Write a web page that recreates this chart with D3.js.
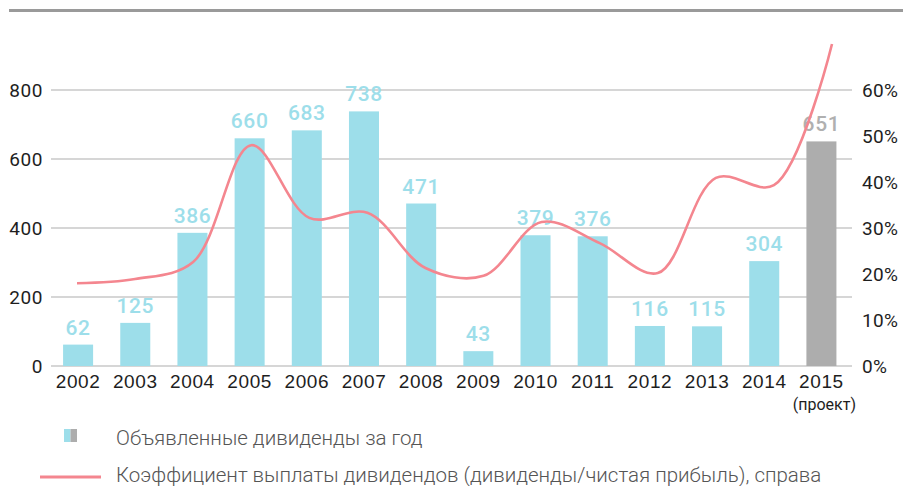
<!DOCTYPE html>
<html><head><meta charset="utf-8">
<script src="https://cdn.jsdelivr.net/npm/d3@7"></script>
<style>
body{margin:0;background:#fff;}
svg{display:block;font-family:Roboto, "Noto Sans", sans-serif;}
</style></head>
<body><svg id="c" width="903" height="486"></svg>
<script>
const years = ["2002","2003","2004","2005","2006","2007","2008","2009","2010","2011","2012","2013","2014","2015"];
const dividends = [62,125,386,660,683,738,471,43,379,376,116,115,304,651];
const payoutRatio = [18.0,18.9,22.6,48.0,32.2,33.3,21.3,19.6,31.3,26.7,20.2,40.9,39.3,70.0];
const leftTicks = [0,200,400,600,800];
const rightTicks = [0,10,20,30,40,50,60];
const projectedYear = "2015";
const projectNote = "(проект)";
const legendBars = "Объявленные дивиденды за год";
const legendLine = "Коэффициент выплаты дивидендов (дивиденды/чистая прибыль), справа";

const svg = d3.select("#c");
const x = d3.scaleBand().domain(years).range([49.5, 850]).paddingInner(0.475).paddingOuter(0.2375);
const y = d3.scaleLinear().domain([0, 800]).range([366, 90]);
const y2 = d3.scaleLinear().domain([0, 60]).range([366, 90]);
const xl = d3.scalePoint().domain(years).range([77, 832]);

// top rule
svg.append("line").attr("x1",9).attr("x2",903).attr("y1",10.5).attr("y2",10.5)
  .attr("stroke","#9a9a9a").attr("stroke-width",3);

// grid
svg.append("g").selectAll("line").data(leftTicks).join("line")
  .attr("x1",51).attr("x2",852).attr("y1",d=>y(d)).attr("y2",d=>y(d))
  .attr("stroke","#c9c9c9").attr("stroke-width",1.5);

// left axis
const gl = svg.append("g").attr("transform","translate(43,0)")
  .call(d3.axisLeft(y).tickValues(leftTicks).tickSize(0).tickPadding(0));
gl.select(".domain").remove();
gl.selectAll("text").attr("font-size",19).attr("fill","#1e1e1e").attr("font-family","Roboto").attr("letter-spacing",0.6);

// right axis
const gr = svg.append("g").attr("transform","translate(862,0)")
  .call(d3.axisRight(y2).tickValues(rightTicks).tickFormat(d=>d+"%").tickSize(0).tickPadding(0));
gr.select(".domain").remove();
gr.selectAll("text").attr("font-size",19).attr("fill","#1e1e1e").attr("font-family","Roboto").attr("letter-spacing",0.3);

// x axis
const gx = svg.append("g").attr("transform","translate(0,374)")
  .call(d3.axisBottom(x).tickSize(0).tickPadding(0));
gx.select(".domain").remove();
gx.selectAll("text").attr("font-size",19).attr("fill","#1e1e1e").attr("dy","0.71em").attr("letter-spacing",0.6);
svg.append("text").attr("x",x(projectedYear)+x.bandwidth()/2+3).attr("y",410)
  .attr("text-anchor","middle").attr("font-size",16).attr("fill","#1e1e1e").text(projectNote);

// bars
const colorOf = d => d===projectedYear ? "#adadad" : "#9ddeea";
svg.append("g").selectAll("rect").data(years).join("rect")
  .attr("x",d=>x(d)).attr("width",x.bandwidth())
  .attr("y",(d,i)=>y(dividends[i])).attr("height",(d,i)=>y(0)-y(dividends[i]))
  .attr("fill",colorOf);

// labels
svg.append("g").selectAll("text").data(years).join("text")
  .attr("x",d=>x(d)+x.bandwidth()/2).attr("y",(d,i)=>y(dividends[i])-10)
  .attr("text-anchor","middle").attr("font-size",21).attr("font-weight",500).attr("letter-spacing",0.6)
  .attr("fill",d=>d===projectedYear ? "#b0b0b0" : "#9ddeea")
  .text((d,i)=>dividends[i]);

// line
const line = d3.line().x(d=>xl(d)).y((d,i)=>y2(payoutRatio[i])).curve(d3.curveCatmullRom.alpha(0.5));
svg.append("path").datum(years).attr("d",line).attr("fill","none")
  .attr("stroke","#f4868f").attr("stroke-width",2.6);

// legend
svg.append("rect").attr("x",64).attr("y",429).attr("width",6.5).attr("height",13).attr("fill","#9ddeea");
svg.append("rect").attr("x",70.5).attr("y",429).attr("width",6.5).attr("height",13).attr("fill","#adadad");
svg.append("text").attr("x",116).attr("y",444.5).attr("font-size",20.5)
  .attr("font-weight",300).attr("fill","#555").text(legendBars);
svg.append("line").attr("x1",40).attr("x2",101).attr("y1",477).attr("y2",477)
  .attr("stroke","#f4868f").attr("stroke-width",3);
svg.append("text").attr("x",116).attr("y",481.5).attr("font-size",20.5)
  .attr("font-weight",300).attr("fill","#555").text(legendLine);
</script></body></html>
